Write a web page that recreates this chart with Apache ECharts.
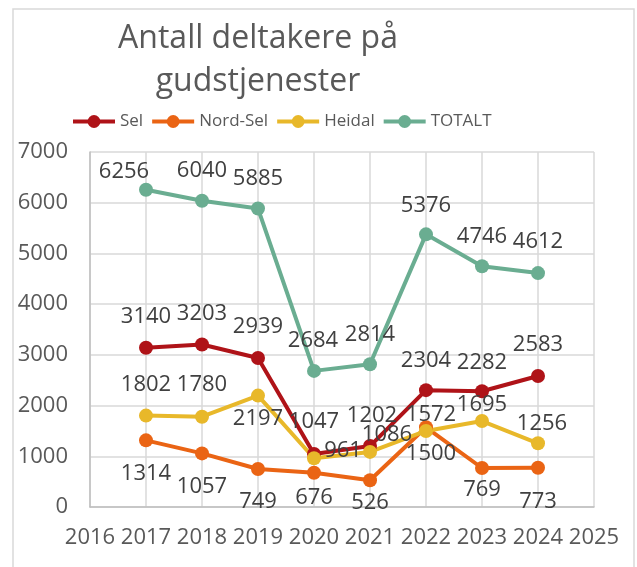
<!DOCTYPE html>
<html>
<head>
<meta charset="utf-8">
<script src="https://cdn.jsdelivr.net/npm/echarts@6/dist/echarts.min.js"></script>
<style>
  html, body { margin: 0; padding: 0; background: #fff; }
  #chart { width: 637px; height: 567px; }
</style>
</head>
<body>
<div id="chart"></div>
<script>
var years = [2017, 2018, 2019, 2020, 2021, 2022, 2023, 2024];
var sel = [3140, 3203, 2939, 1047, 1202, 2304, 2282, 2583];
var nordSel = [1314, 1057, 749, 676, 526, 1572, 769, 773];
var heidal = [1802, 1780, 2197, 961, 1086, 1500, 1695, 1256];
var totalt = [6256, 6040, 5885, 2684, 2814, 5376, 4746, 4612];

// label offsets (px from point centre)
var selOff = [[0, -31], [0, -31], [0, -31], [0, -32], [2, -30], [0, -29], [0, -29], [0, -31]];
var nordSelOff = [[0, 33], [0, 33], [0, 33], [0, 25], [0, 22], [5, -13], [0, 22], [0, 34]];
var heidalOff = [[0, -31], [0, -32], [0, 23], [29, -8], [17, -17], [5, 23], [0, -16], [4, -20]];
var totaltOff = [[-22, -18], [0, -30], [0, -30], [-1, -30], [0, -30], [0, -29], [0, -30], [0, -31]];

var FONT = '"Open Sans", sans-serif';
var SYM = 14;

function makeSeries(name, values, offsets, color) {
    var data = values.map(function (v, i) {
        // position is relative to the symbol's box, so shift by half its size
        return {
            value: [years[i], v],
            label: { position: [SYM / 2 + offsets[i][0], SYM / 2 + offsets[i][1]] }
        };
    });
    return {
        name: name,
        type: 'line',
        data: data,
        symbol: 'circle',
        symbolSize: SYM,
        lineStyle: { color: color, width: 4 },
        itemStyle: { color: color },
        label: {
            show: true,
            align: 'center',
            verticalAlign: 'middle',
            color: '#404040',
            fontFamily: FONT,
            fontSize: 22,
            formatter: function (p) { return p.value[1]; }
        },
        labelLayout: { hideOverlap: false },
        animation: false
    };
}

var chart = echarts.init(document.getElementById('chart'));
chart.setOption({
    backgroundColor: '#fff',
    textStyle: { fontFamily: FONT },
    graphic: [
        {
            type: 'rect',
            shape: { x: 13, y: 9, width: 621, height: 575 },
            style: { fill: 'none', stroke: '#d9d9d9', lineWidth: 1.5 },
            silent: true
        },
        {
            type: 'text',
            x: 258,
            y: 39,
            style: {
                text: 'Antall deltakere på',
                fontFamily: FONT,
                fontSize: 32,
                fill: '#595959',
                align: 'center',
                verticalAlign: 'middle'
            }
        },
        {
            type: 'text',
            x: 258,
            y: 82,
            style: {
                text: 'gudstjenester',
                fontFamily: FONT,
                fontSize: 32,
                fill: '#595959',
                align: 'center',
                verticalAlign: 'middle'
            }
        }
    ],
    legend: {
        left: 66,
        top: 108,
        itemWidth: 42,
        itemHeight: 16,
        itemGap: 7,
        lineStyle: { width: 4 },
        textStyle: { color: '#595959', fontSize: 17, fontFamily: FONT },
        data: ['Sel', 'Nord-Sel', 'Heidal', 'TOTALT']
    },
    grid: { left: 90, right: 43, top: 152, bottom: 60 },
    xAxis: {
        type: 'value',
        min: 2016,
        max: 2025,
        interval: 1,
        axisLine: { show: true, lineStyle: { color: '#bfbfbf', width: 1.5 } },
        axisTick: { show: false },
        splitLine: { show: true, lineStyle: { color: '#d9d9d9', width: 1.5 } },
        axisLabel: {
            color: '#595959',
            fontSize: 22,
            fontFamily: FONT,
            margin: 20,
            formatter: function (v) { return String(v); }
        }
    },
    yAxis: {
        type: 'value',
        min: 0,
        max: 7000,
        interval: 1000,
        axisLine: { show: true, lineStyle: { color: '#bfbfbf', width: 1.5 } },
        axisTick: { show: false },
        splitLine: { show: true, lineStyle: { color: '#d9d9d9', width: 1.5 } },
        axisLabel: {
            color: '#595959',
            fontSize: 22,
            fontFamily: FONT,
            margin: 22,
            formatter: function (v) { return String(v); }
        }
    },
    series: [
        makeSeries('Sel', sel, selOff, '#af1318'),
        makeSeries('Nord-Sel', nordSel, nordSelOff, '#ea6414'),
        makeSeries('Heidal', heidal, heidalOff, '#e8b82a'),
        makeSeries('TOTALT', totalt, totaltOff, '#6aad91')
    ]
});
</script>
</body>
</html>
